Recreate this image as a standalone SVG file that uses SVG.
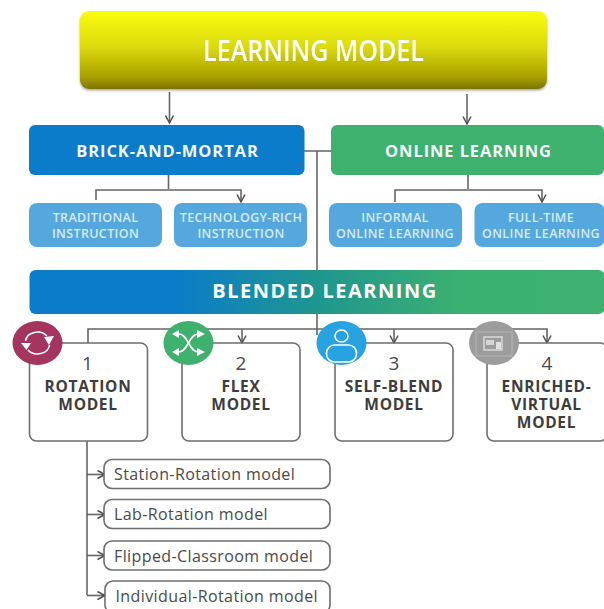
<svg xmlns="http://www.w3.org/2000/svg" width="604" height="609" viewBox="0 0 604 609">
<defs>
<linearGradient id="yg" x1="0" y1="0" x2="0" y2="1"><stop offset="0" stop-color="#fbfb10"/><stop offset="0.45" stop-color="#dcdc08"/><stop offset="0.85" stop-color="#a8a004"/><stop offset="1" stop-color="#7d7400"/></linearGradient>
<linearGradient id="bg" x1="0" y1="0" x2="1" y2="0"><stop offset="0" stop-color="#0a7cca"/><stop offset="0.25" stop-color="#0a7cca"/><stop offset="0.5" stop-color="#1f968f"/><stop offset="0.75" stop-color="#3bb071"/><stop offset="1" stop-color="#3eb16f"/></linearGradient>
<marker id="a" viewBox="0 0 10 10" refX="8.5" refY="5" markerWidth="10" markerHeight="10" markerUnits="userSpaceOnUse" orient="auto"><path d="M1 1 L8.5 5 L1 9" fill="none" stroke="#4f4f4f" stroke-width="1.5"/></marker>
<filter id="s" x="-5%" y="-10%" width="110%" height="125%"><feDropShadow dx="0" dy="1.5" stdDeviation="1.2" flood-color="#000" flood-opacity=".35"/></filter>
<filter id="b" x="-5%" y="-5%" width="110%" height="110%"><feGaussianBlur stdDeviation="0.35"/></filter>
</defs>
<style>
text{font-family:"Open Sans","Noto Sans",sans-serif;text-anchor:middle}
.w{fill:#fff;font-weight:600}
.h{fill:#f2f8fb;font-size:16.5px;font-weight:700;letter-spacing:.9px}
.sub{fill:#d3ebf8;font-size:12.5px;font-weight:600;letter-spacing:.35px}
.k{fill:#3d3d3d;font-size:15.5px;font-weight:700;letter-spacing:.7px}
.n{fill:#4a4a4a;font-size:19px}
.m{fill:#4a4a4a;font-size:16px;text-anchor:start;letter-spacing:.4px}
.c{fill:none;stroke:#666;stroke-width:1.6}
.box{fill:#fff;stroke:#6f6f6f;stroke-width:1.6}
.lb{fill:#55a8dd}
.ic{fill:none;stroke:#fff;stroke-width:1.6}
</style>
<rect width="604" height="609" fill="#fff"/>
<g id="connectors" filter="url(#b)">
<path class="c" marker-end="url(#a)" d="M169.500 92V123"/>
<path class="c" marker-end="url(#a)" d="M467 94V124"/>
<path class="c" d="M304 151H331M317 151V335"/>
<path class="c" d="M168.500 175V189"/>
<path class="c" marker-end="url(#a)" d="M96 200V190H241V202"/>
<path class="c" d="M468 175V189"/>
<path class="c" marker-end="url(#a)" d="M395 202V190H542V202"/>
<path class="c" marker-end="url(#a)" d="M88 343V329H547V343"/>
<path class="c" marker-end="url(#a)" d="M242 329V343"/>
<path class="c" marker-end="url(#a)" d="M394 329V343"/>
<path class="c" d="M87 441V595"/>
<path class="c" marker-end="url(#a)" d="M87 474.500H105"/>
<path class="c" marker-end="url(#a)" d="M87 514.500H105"/>
<path class="c" marker-end="url(#a)" d="M87 555.500H105"/>
<path class="c" marker-end="url(#a)" d="M87 595.500H105"/>
</g>
<g id="learning-model" filter="url(#s)"><rect x="80" y="11" width="467" height="78" rx="9" fill="url(#yg)"/><text class="w" x="313.500" y="61" style="font-size:29px" textLength="221" lengthAdjust="spacingAndGlyphs">LEARNING MODEL</text></g>
<g id="brick-and-mortar"><rect x="29" y="125" width="275.500" height="50" rx="6" fill="#0a7cca"/><text class="h" x="167.500" y="156.500">BRICK-AND-MORTAR</text></g>
<g id="online-learning"><rect x="331" y="125" width="273" height="50" rx="6" fill="#3eb16f"/><text class="h" x="468.500" y="156.500">ONLINE LEARNING</text></g>
<g id="traditional"><rect class="lb" x="29" y="203" width="133" height="44" rx="8"/><text class="sub" x="95.500" y="222">TRADITIONAL</text><text class="sub" x="95.500" y="238">INSTRUCTION</text></g>
<g id="technology-rich"><rect class="lb" x="174" y="203" width="133" height="44" rx="8"/><text class="sub" x="241" y="222">TECHNOLOGY-RICH</text><text class="sub" x="241" y="238">INSTRUCTION</text></g>
<g id="informal"><rect class="lb" x="329" y="203" width="133" height="44" rx="8"/><text class="sub" x="395" y="222">INFORMAL</text><text class="sub" x="395" y="238">ONLINE LEARNING</text></g>
<g id="full-time"><rect class="lb" x="474.500" y="203" width="130" height="44" rx="8"/><text class="sub" x="541" y="222">FULL-TIME</text><text class="sub" x="541" y="238">ONLINE LEARNING</text></g>
<g id="blended-learning"><rect x="29.500" y="270" width="575" height="44" rx="6" fill="url(#bg)"/><text class="w" x="325" y="298" style="font-size:20px;font-weight:700;letter-spacing:1.5px">BLENDED LEARNING</text></g>
<g id="rotation-model"><rect class="box" x="29.500" y="343" width="118" height="98" rx="7"/>
<ellipse cx="37.500" cy="343" rx="25" ry="22" fill="#a3355f"/>
<path class="ic" d="M25.500 341A12 10 0 0 1 47 336M49.500 345A12 10 0 0 1 28 350"/><path fill="#fff" d="M44 337L54 336L49 345ZM21 343H31L26.500 350Z"/>
<text class="n" x="87.500" y="370">1</text><text class="k" x="88" y="392">ROTATION</text><text class="k" x="88" y="410">MODEL</text></g>
<g id="flex-model"><rect class="box" x="182" y="343" width="118" height="98" rx="7"/>
<ellipse cx="188.500" cy="343" rx="25" ry="22" fill="#3eb16f"/>
<path class="ic" d="M175 334H179C188 334 189 352 198 352H201M175 352H179C188 352 189 334 198 334H201"/><path fill="#fff" d="M197 330L205 334L197 338ZM197 348L205 352L197 356ZM179 330L172 334L179 338ZM179 348L172 352L179 356Z"/>
<text class="n" x="241" y="370">2</text><text class="k" x="241" y="392">FLEX</text><text class="k" x="241" y="410">MODEL</text></g>
<g id="self-blend-model"><rect class="box" x="335" y="343" width="118" height="98" rx="7"/>
<ellipse cx="341.500" cy="343" rx="25" ry="22" fill="#27a3e2"/>
<ellipse class="ic" cx="341.500" cy="336" rx="6.500" ry="6"/><rect class="ic" x="326.500" y="345" width="30" height="17" rx="8"/>
<text class="n" x="394" y="370">3</text><text class="k" x="394" y="392">SELF-BLEND</text><text class="k" x="394" y="410">MODEL</text></g>
<g id="enriched-virtual-model"><rect class="box" x="487" y="343" width="120" height="98" rx="7"/>
<ellipse cx="494" cy="343" rx="25" ry="22" fill="#9c9c9c"/>
<rect x="476" y="332" width="36" height="24" fill="none" stroke="#b5b5b5" stroke-width="1"/><rect x="484" y="337" width="18" height="13" fill="none" stroke="#e2e2e2" stroke-width="1.300"/><rect x="486" y="340" width="8" height="5" fill="#d5d5d5"/><rect x="496" y="342" width="5" height="7" fill="#e0e0e0"/>
<text class="n" x="547" y="370">4</text><text class="k" x="546.500" y="392">ENRICHED-</text><text class="k" x="546.500" y="410">VIRTUAL</text><text class="k" x="546.500" y="428">MODEL</text></g>
<g id="station-rotation"><rect class="box" x="104" y="459.500" width="226" height="29" rx="8"/><text class="m" x="114" y="480">Station-Rotation model</text></g>
<g id="lab-rotation"><rect class="box" x="104" y="499.500" width="226" height="29" rx="8"/><text class="m" x="114" y="520">Lab-Rotation model</text></g>
<g id="flipped-classroom"><rect class="box" x="104" y="541" width="226" height="29" rx="8"/><text class="m" x="114" y="562">Flipped-Classroom model</text></g>
<g id="individual-rotation"><rect class="box" x="105" y="581" width="225" height="32" rx="8"/><text class="m" x="115.500" y="602">Individual-Rotation model</text></g>
</svg>
